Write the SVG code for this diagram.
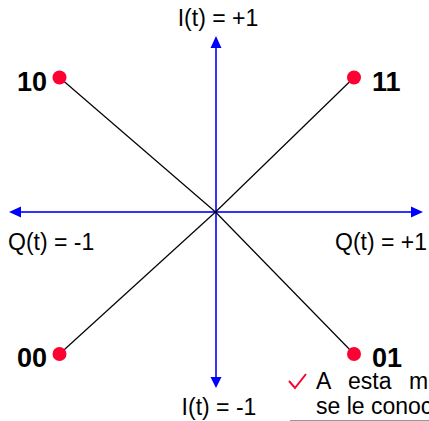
<svg xmlns="http://www.w3.org/2000/svg" width="429" height="421" viewBox="0 0 429 421">
<style>
.axis{stroke:#3333ff;stroke-width:2;fill:none}
.head{fill:#0000ff}
.ray{stroke:#000;stroke-width:1.2}
.dot{fill:#ff0033}
.lbl{font-family:"Liberation Sans",Arial,sans-serif;font-size:23px;fill:#000}
.bit{font-family:"Liberation Sans",Arial,sans-serif;font-size:27px;font-weight:bold;fill:#000}
</style>
<rect width="429" height="421" fill="#fff"/>
<g id="connectors">
<line class="axis" x1="216" y1="46" x2="216" y2="379"/>
<line class="axis" x1="19" y1="212" x2="414" y2="212"/>
<polygon class="head" points="216,36 210.5,48 221.5,48"/>
<polygon class="head" points="216,388 210.5,377 221.5,377"/>
<polygon class="head" points="9,212 21,206.5 21,217.5"/>
<polygon class="head" points="423,212 411,206.5 411,217.5"/>
<line class="ray" x1="59.5" y1="77.5" x2="215.5" y2="212"/>
<line class="ray" x1="354" y1="77.5" x2="215.5" y2="212"/>
<line class="ray" x1="59.5" y1="354" x2="215.5" y2="212"/>
<line class="ray" x1="354" y1="354" x2="215.5" y2="212"/>
</g>
<g id="axis-labels">
<text class="lbl" x="218" y="26" text-anchor="middle">I(t) = +1</text>
<text class="lbl" x="219" y="415" text-anchor="middle">I(t) = -1</text>
<text class="lbl" x="8" y="250">Q(t) = -1</text>
<text class="lbl" x="335" y="250">Q(t) = +1</text>
</g>
<g id="node-10"><circle class="dot" cx="59.5" cy="77.5" r="7"/><text class="bit" x="17" y="91">10</text></g>
<g id="node-11"><circle class="dot" cx="354" cy="77.5" r="7"/><text class="bit" x="372" y="91">11</text></g>
<g id="node-00"><circle class="dot" cx="59.5" cy="354" r="7"/><text class="bit" x="17" y="367">00</text></g>
<g id="node-01"><circle class="dot" cx="354" cy="354" r="7"/><text class="bit" x="372" y="367">01</text></g>
<g id="note">
<path d="M289,381 L295,388 L306,374" stroke="#ff0033" stroke-width="2" fill="none"/>
<text class="lbl" y="389"><tspan x="316">A</tspan><tspan x="348">esta</tspan><tspan x="409">m</tspan></text>
<text class="lbl" x="316" y="414">se le conoc</text>
<line x1="290" y1="420.5" x2="429" y2="420.5" stroke="#999" stroke-width="1"/>
</g>
</svg>
